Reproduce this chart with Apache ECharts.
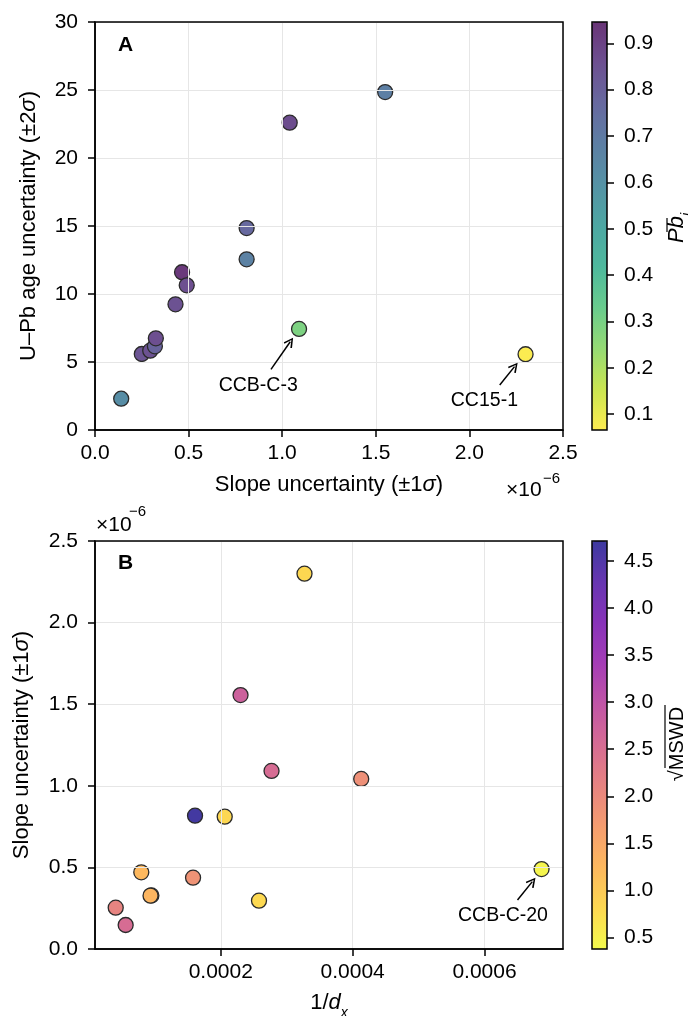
<!DOCTYPE html>
<html><head><meta charset="utf-8">
<script src="https://cdn.jsdelivr.net/npm/echarts@6/dist/echarts.min.js"></script>
<style>html,body{margin:0;padding:0;background:#fff}#c{width:688px;height:1016px}</style>
</head><body><div id="c"></div>
<script>
const FONT = '"Liberation Sans", Arial, Helvetica, sans-serif';

// ---------- Panel A data ----------
// slope uncertainty (x 1e-6), U-Pb age uncertainty (±2σ), initial Pb fraction
const slopeA   = [1.04, 0.81, 1.55, 0.81, 0.465, 0.49, 0.43, 1.09, 0.25, 0.295, 0.32, 0.325, 0.14, 2.30];
const ageUncA  = [22.6, 14.85, 24.85, 12.55, 11.6, 10.64, 9.24, 7.43, 5.59, 5.83, 6.15, 6.74, 2.30, 5.57];
const pbA      = [0.87, 0.77, 0.68, 0.67, 0.93, 0.86, 0.85, 0.29, 0.84, 0.85, 0.79, 0.86, 0.62, 0.07];
const xTicksA  = [0, 0.5, 1.0, 1.5, 2.0, 2.5];
const yTicksA  = [0, 5, 10, 15, 20, 25, 30];
const cbTicksA = [0.1, 0.2, 0.3, 0.4, 0.5, 0.6, 0.7, 0.8, 0.9];
const cbRangeA = [0.066, 0.946];

// ---------- Panel B data ----------
// 1/dx, slope uncertainty (x 1e-6), sqrt(MSWD)
const invDxB   = [0.000327, 0.000230, 0.000277, 0.000413, 0.000161, 0.000206, 0.0000795, 0.000158, 0.0000948, 0.0000935, 0.000258, 0.0000407, 0.0000558, 0.0006865];
const slopeB   = [2.30, 1.556, 1.091, 1.042, 0.817, 0.811, 0.470, 0.437, 0.328, 0.327, 0.296, 0.253, 0.147, 0.490];
const mswdB    = [0.82, 2.75, 2.55, 1.90, 4.65, 0.82, 1.25, 1.85, 1.35, 1.30, 0.80, 2.10, 2.55, 0.45];
const xTicksB  = [0.0002, 0.0004, 0.0006];
const xRangeB  = [0.0000093, 0.000719];
const yTicksB  = [0, 0.5, 1.0, 1.5, 2.0, 2.5];
const cbTicksB = [0.5, 1.0, 1.5, 2.0, 2.5, 3.0, 3.5, 4.0, 4.5];
const cbRangeB = [0.38, 4.71];

// ---------- annotations (data coordinates) ----------
const annotA = [
  {name: 'CCB-C-3', text: [0.872, 3.24], from: [0.94, 4.46], to: [1.043, 6.49]},
  {name: 'CC15-1',  text: [2.080, 2.13], from: [2.162, 3.31], to: [2.241, 4.66]}
];
const annotB = [
  {name: 'CCB-C-20', text: [0.000628, 0.202], from: [0.00065, 0.30], to: [0.0006725, 0.413]}
];

// colormaps
const viridis = ['#440154','#482475','#414487','#355f8d','#2a788e','#21918c','#22a884','#44bf70','#7ad151','#bddf26','#fde725'];
const plasma  = ['#0d0887','#41049d','#6a00a8','#8f0da4','#b12a90','#cc4778','#e16462','#f2844b','#fca636','#fcce25','#f0f921'];
function withAlpha(hex, a) {
  const r = parseInt(hex.slice(1,3),16), g = parseInt(hex.slice(3,5),16), b = parseInt(hex.slice(5,7),16);
  const m = c => Math.round(c * a + 255 * (1 - a));
  return 'rgb(' + m(r) + ',' + m(g) + ',' + m(b) + ')';
}
const cmapA = viridis.slice().reverse().map(c => withAlpha(c, 0.8));
const cmapB = plasma.slice().reverse().map(c => withAlpha(c, 0.8));

const TICK = 21, LAB = 22, ANN = 19.5;
const GRIDC = '#e6e6e6';
const OPEN_ARROW = 'path://M5,0 L10,9 L8.6,9.9 L5,3 L1.4,9.9 L0,9 Z';

const dataA = slopeA.map((x, i) => [x, ageUncA[i], pbA[i]]);
const dataB = invDxB.map((x, i) => [x, slopeB[i], mswdB[i]]);

function mainX(gi, min, max, opts) {
  return Object.assign({
    type: 'value', gridIndex: gi, min: min, max: max, z: 5,
    axisLine: {show: true, onZero: false, lineStyle: {color: '#000', width: 1.5}},
    axisTick: {show: true, length: 7, lineStyle: {color: '#000', width: 1.5}},
    axisLabel: {color: '#000', fontSize: TICK, fontFamily: FONT, margin: 13},
    splitLine: {show: true, lineStyle: {color: GRIDC, width: 1}}
  }, opts);
}
function mainY(gi, min, max, opts) {
  return Object.assign({
    type: 'value', gridIndex: gi, min: min, max: max, z: 5,
    axisLine: {show: true, onZero: false, lineStyle: {color: '#000', width: 1.5}},
    axisTick: {show: true, length: 7, lineStyle: {color: '#000', width: 1.5}},
    axisLabel: {color: '#000', fontSize: TICK, fontFamily: FONT, margin: 17},
    splitLine: {show: true, lineStyle: {color: GRIDC, width: 1}}
  }, opts);
}
function cbY(gi, range, ticks) {
  return {
    type: 'value', gridIndex: gi, position: 'right', min: range[0], max: range[1], z: 12,
    axisLine: {show: false, onZero: false},
    axisTick: {show: true, inside: false, length: 7, customValues: ticks, lineStyle: {color: '#000', width: 1.5}},
    axisLabel: {color: '#000', fontSize: TICK, fontFamily: FONT, margin: 17, customValues: ticks,
                formatter: v => v.toFixed(1)},
    splitLine: {show: false}
  };
}

function arrows(list) {
  return {
    silent: true, animation: false, symbol: ['none', OPEN_ARROW], symbolSize: [10, 10],
    lineStyle: {color: '#000', width: 1.5, type: 'solid'}, label: {show: false},
    data: list.map(a => [{coord: a.from}, {coord: a.to}])
  };
}
function labels(list) {
  return {
    silent: true, animation: false, symbol: 'circle', symbolSize: 1,
    itemStyle: {color: 'rgba(0,0,0,0)'},
    label: {show: true, position: 'inside', color: '#000', fontSize: ANN, fontFamily: FONT, formatter: p => p.name},
    data: list.map(a => ({name: a.name, coord: a.text}))
  };
}

const rich = {
  a: {fontSize: LAB, fontFamily: FONT, color: '#000'},
  i: {fontSize: LAB, fontFamily: FONT, color: '#000', fontStyle: 'italic'},
  s: {fontSize: 14, fontFamily: FONT, color: '#000', fontStyle: 'italic', verticalAlign: 'bottom', padding: [0,0,-6,0]}
};

const option = {
  animation: false,
  backgroundColor: '#fff',
  grid: [
    {left: 95, top: 22, width: 468, height: 408, show: true, borderColor: '#000', borderWidth: 1.5, backgroundColor: 'transparent', z: 10},
    {left: 592, top: 22, width: 15, height: 408, show: true, borderColor: '#000', borderWidth: 1.5, backgroundColor: 'transparent', z: 10},
    {left: 95, top: 541, width: 468, height: 408, show: true, borderColor: '#000', borderWidth: 1.5, backgroundColor: 'transparent', z: 10},
    {left: 592, top: 541, width: 15, height: 408, show: true, borderColor: '#000', borderWidth: 1.5, backgroundColor: 'transparent', z: 10}
  ],
  xAxis: [
    mainX(0, xTicksA[0], xTicksA[xTicksA.length-1], {interval: 0.5, axisLabel: {color: '#000', fontSize: TICK, fontFamily: FONT, margin: 13, formatter: v => v.toFixed(1)}}),
    {type: 'value', gridIndex: 1, min: 0, max: 1, show: false},
    mainX(2, xRangeB[0], xRangeB[1], {
      axisTick: {show: true, length: 7, customValues: xTicksB, lineStyle: {color: '#000', width: 1.5}},
      axisLabel: {color: '#000', fontSize: TICK, fontFamily: FONT, margin: 13, customValues: xTicksB, formatter: v => v.toFixed(4)}
    }),
    {type: 'value', gridIndex: 3, min: 0, max: 1, show: false}
  ],
  yAxis: [
    mainY(0, yTicksA[0], yTicksA[yTicksA.length-1], {interval: 5}),
    cbY(1, cbRangeA, cbTicksA),
    mainY(2, yTicksB[0], yTicksB[yTicksB.length-1], {interval: 0.5, axisLabel: {color: '#000', fontSize: TICK, fontFamily: FONT, margin: 17, formatter: v => v.toFixed(1)}}),
    cbY(3, cbRangeB, cbTicksB)
  ],
  visualMap: [
    {type: 'continuous', seriesIndex: 0, dimension: 2, min: cbRangeA[0], max: cbRangeA[1],
     left: 592, top: 22, itemWidth: 15, itemHeight: 408, padding: 0, calculable: false, hoverLink: false,
     text: null, inRange: {color: cmapA}, z: 4},
    {type: 'continuous', seriesIndex: 1, dimension: 2, min: cbRangeB[0], max: cbRangeB[1],
     left: 592, top: 541, itemWidth: 15, itemHeight: 408, padding: 0, calculable: false, hoverLink: false,
     text: null, inRange: {color: cmapB}, z: 4}
  ],
  series: [
    {type: 'scatter', xAxisIndex: 0, yAxisIndex: 0, data: dataA, symbolSize: 15, z: 3,
     itemStyle: {borderColor: '#2b2b2b', borderWidth: 1.3, opacity: 1},
     markLine: arrows(annotA), markPoint: labels(annotA)},
    {type: 'scatter', xAxisIndex: 2, yAxisIndex: 2, data: dataB, symbolSize: 15, z: 3,
     itemStyle: {borderColor: '#2b2b2b', borderWidth: 1.3, opacity: 1},
     markLine: arrows(annotB), markPoint: labels(annotB)}
  ],
  graphic: [
    {type: 'text', left: 118, top: 35, z: 20, style: {text: 'A', font: 'bold 21px ' + FONT, fill: '#000'}},
    {type: 'text', left: 118, top: 553, z: 20, style: {text: 'B', font: 'bold 21px ' + FONT, fill: '#000'}},
    // y axis labels
    {type: 'text', x: 29, y: 226, rotation: Math.PI/2, z: 20,
     style: {text: '{a|U–Pb age uncertainty (±2}{i|σ}{a|)}', rich: rich, align: 'center', verticalAlign: 'middle'}},
    {type: 'text', x: 22, y: 745, rotation: Math.PI/2, z: 20,
     style: {text: '{a|Slope uncertainty (±1}{i|σ}{a|)}', rich: rich, align: 'center', verticalAlign: 'middle'}},
    // x axis labels
    {type: 'text', x: 329, y: 485, z: 20,
     style: {text: '{a|Slope uncertainty (±1}{i|σ}{a|)}', rich: rich, align: 'center', verticalAlign: 'middle'}},
    {type: 'text', x: 329, y: 1003, z: 20,
     style: {text: '{a|1/}{i|d}{s|x}', rich: rich, align: 'center', verticalAlign: 'middle'}},
    // offset texts
    {type: 'text', x: 506, y: 490, z: 20, style: {text: '×10', font: TICK + 'px ' + FONT, fill: '#000', verticalAlign: 'middle'}},
    {type: 'text', x: 543, y: 479, z: 20, style: {text: '−6', font: '15px ' + FONT, fill: '#000', verticalAlign: 'middle'}},
    {type: 'text', x: 96, y: 525, z: 20, style: {text: '×10', font: TICK + 'px ' + FONT, fill: '#000', verticalAlign: 'middle'}},
    {type: 'text', x: 129, y: 512, z: 20, style: {text: '−6', font: '15px ' + FONT, fill: '#000', verticalAlign: 'middle'}},
    // colorbar labels
    {type: 'text', x: 677, y: 228, rotation: Math.PI/2, z: 20,
     style: {text: '{i|Pb}{s|i}', rich: rich, align: 'center', verticalAlign: 'middle'}},
    {type: 'line', z: 20, shape: {x1: 667, y1: 218, x2: 667, y2: 232}, style: {stroke: '#000', lineWidth: 1.2}},
    {type: 'text', x: 677, y: 744, rotation: Math.PI/2, z: 20,
     style: {text: '√MSWD', font: '20px ' + FONT, fill: '#000', align: 'center', verticalAlign: 'middle'}},
    {type: 'line', z: 20, shape: {x1: 665, y1: 705, x2: 665, y2: 768}, style: {stroke: '#000', lineWidth: 1.2}}
  ]
};
const chart = echarts.init(document.getElementById('c'));
chart.setOption(option);
</script></body></html>
